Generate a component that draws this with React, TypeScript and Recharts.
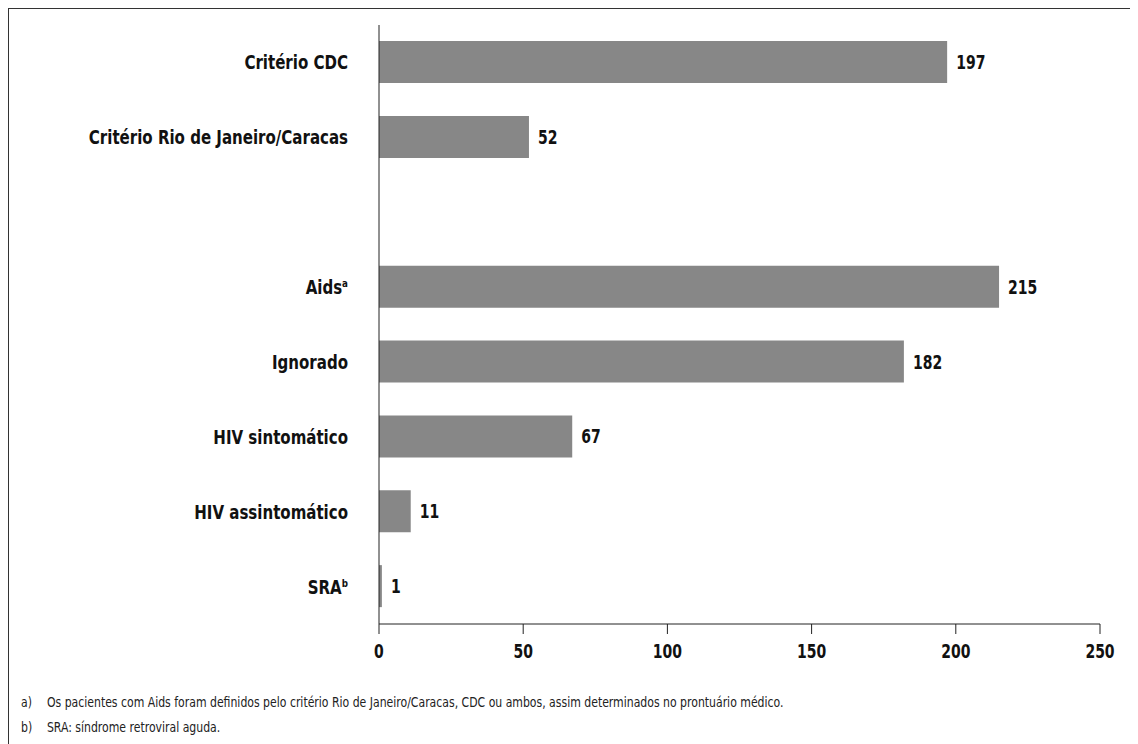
import React from "react";
import { BarChart, Bar, XAxis, YAxis, LabelList } from "recharts";

const categories = [
  "Critério CDC",
  "Critério Rio de Janeiro/Caracas",
  "",
  "Aids",
  "Ignorado",
  "HIV sintomático",
  "HIV assintomático",
  "SRA",
];
const superscripts = ["", "", "", "a", "", "", "", "b"];
const values: (number | null)[] = [197, 52, null, 215, 182, 67, 11, 1];
const xTicks = [0, 50, 100, 150, 200, 250];
const footnotes = [
  "Os pacientes com Aids foram definidos pelo critério Rio de Janeiro/Caracas, CDC ou ambos, assim determinados no prontuário médico.",
  "SRA: síndrome retroviral aguda.",
];
const footnoteMarks = ["a)", "b)"];

const data = categories.map((c, i) => ({ name: c, sup: superscripts[i], value: values[i] }));

const FONT = "'DejaVu Sans Condensed', 'Liberation Sans Narrow', sans-serif";

const NarrowText = ({ x, y, anchor, size, sx, children }: any) => (
  <g transform={`translate(${x},${y}) scale(${sx},1)`}>
    <text x={0} y={0} textAnchor={anchor} fontFamily={FONT} fontWeight="bold" fontSize={size} fill="#111">
      {children}
    </text>
  </g>
);

const CatTick = (props: any) => {
  const { x, y, payload } = props;
  const name = payload.value as string;
  if (!name) return null;
  const idx = categories.indexOf(name);
  const sup = superscripts[idx];
  return (
    <NarrowText x={x} y={y + 7} anchor="end" size={19} sx={0.88}>
      {name}
      {sup ? (
        <tspan fontSize={11} dy={-7}>
          {sup}
        </tspan>
      ) : null}
    </NarrowText>
  );
};

const XTick = (props: any) => {
  const { x, y, payload } = props;
  return (
    <NarrowText x={x} y={y + 14} anchor="middle" size={19} sx={0.82}>
      {payload.value}
    </NarrowText>
  );
};

const ValueLabel = (props: any) => {
  const { x, y, width, height, value } = props;
  if (value == null) return null;
  return (
    <NarrowText x={x + width + 9} y={y + height / 2 + 7} anchor="start" size={19} sx={0.82}>
      {value}
    </NarrowText>
  );
};

export default function App() {
  return (
    <div
      style={{
        position: "relative",
        width: 1130,
        height: 736,
        borderTop: "1.5px solid #333",
        borderLeft: "1.5px solid #333",
        boxSizing: "border-box",
        fontFamily: FONT,
      }}
    >
      <div style={{ position: "absolute", left: -1.5, top: -1.5 }}>
        <BarChart
          width={1130}
          height={680}
          data={data}
          layout="vertical"
          margin={{ top: 17, right: 38, bottom: 0, left: 0 }}
          barSize={42}
          barCategoryGap={0}
        >
          <XAxis
            type="number"
            domain={[0, 250]}
            ticks={xTicks}
            height={64}
            tickSize={10}
            tickMargin={10}
            stroke="#222"
            tick={<XTick />}
          />
          <YAxis
            type="category"
            dataKey="name"
            width={371}
            tickSize={0}
            tickMargin={31}
            stroke="#222"
            tick={<CatTick />}
            interval={0}
          />
          <Bar dataKey="value" fill="#878787" isAnimationActive={false}>
            <LabelList dataKey="value" content={<ValueLabel />} />
          </Bar>
        </BarChart>
      </div>
      <div
        style={{
          position: "absolute",
          left: 12,
          top: 681,
          fontSize: 14,
          color: "#222",
          lineHeight: "25px",
          transform: "scale(0.865,1)",
          transformOrigin: "0 0",
          whiteSpace: "nowrap",
        }}
      >
        {footnotes.map((f, i) => (
          <div key={i}>
            <span style={{ display: "inline-block", width: 30 }}>{footnoteMarks[i]}</span>
            {f}
          </div>
        ))}
      </div>
    </div>
  );
}
